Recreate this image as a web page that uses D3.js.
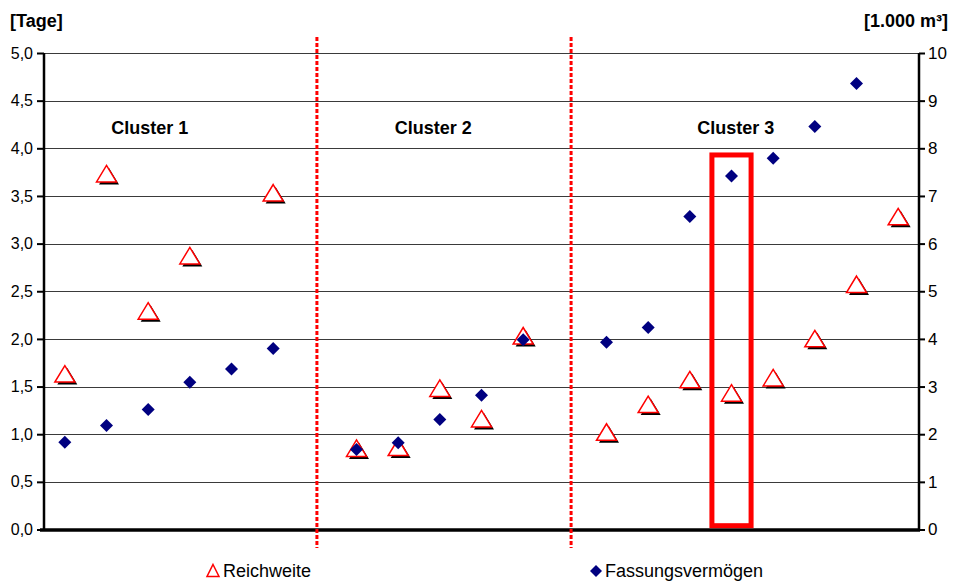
<!DOCTYPE html>
<html><head><meta charset="utf-8">
<script src="https://cdn.jsdelivr.net/npm/d3@7"></script>
<style>
html,body{margin:0;padding:0;background:#fff;}
svg{display:block;font-family:"Liberation Sans",Arial,sans-serif;}
</style></head>
<body>
<svg id="chart" width="953" height="581"></svg>
<script>
// ---- data ----
const categories = d3.range(21).map(i => "P" + (i + 1));
// Reichweite [Tage] (left axis); null = no point
const reichweite = [1.62, 3.72, 2.28, 2.86, null, 3.52, null,
                    0.84, 0.85, 1.47, 1.15, 2.02, null,
                    1.01, 1.30, 1.56, 1.42, 1.58, 1.99, 2.56, 3.27];
// Fassungsvermögen [1.000 m³] (right axis)
const fassung = [1.83, 2.18, 2.52, 3.09, 3.37, 3.80, null,
                 1.68, 1.82, 2.31, 2.82, 3.98, null,
                 3.93, 4.24, 6.57, 7.42, 7.79, 8.46, 9.36, null];
const leftTicks = [0, 0.5, 1, 1.5, 2, 2.5, 3, 3.5, 4, 4.5, 5];
const rightTicks = [0, 1, 2, 3, 4, 5, 6, 7, 8, 9, 10];
const clusterLabels = ["Cluster 1", "Cluster 2", "Cluster 3"];
const seriesNames = ["Reichweite", "Fassungsvermögen"];

// ---- layout ----
const W = 953, H = 581;
const L = 44, R = 919, T = 53, B = 529.5;
const svg = d3.select("#chart");

const x = d3.scaleBand().domain(d3.range(categories.length)).range([L, R]).padding(0);
const xc = i => L + x.bandwidth() * (i + 0.5);
const yL = d3.scaleLinear().domain([0, 5]).range([B, T]);
const yR = d3.scaleLinear().domain([0, 10]).range([B, T]);
const fmt = d => d.toFixed(1).replace(".", ",");

// gridlines
svg.append("g").selectAll("line").data(leftTicks.filter(d => d > 0)).join("line")
  .attr("x1", L).attr("x2", R)
  .attr("y1", d => Math.round(yL(d)) + 0.5).attr("y2", d => Math.round(yL(d)) + 0.5)
  .attr("stroke", "#3a3a3a").attr("stroke-width", 1);

// axes
const gl = svg.append("g").attr("transform", `translate(${L},0)`)
  .call(d3.axisLeft(yL).tickValues(leftTicks).tickFormat(fmt).tickSize(7).tickPadding(4));
const gr = svg.append("g").attr("transform", `translate(${R},0)`)
  .call(d3.axisRight(yR).tickValues(rightTicks).tickFormat(d3.format("d")).tickSize(6).tickPadding(3));
[gl, gr].forEach((g, k) => {
  g.select(".domain").remove();
  g.selectAll(".tick line").attr("stroke", "#000").attr("stroke-width", 2);
  g.selectAll(".tick text").attr("fill", "#000").style("font-size", k ? "17px" : "16px")
    .style("font-family", '"Liberation Sans",Arial,sans-serif');
});
svg.append("line").attr("x1", L).attr("x2", L).attr("y1", T).attr("y2", B + 1.5)
  .attr("stroke", "#000").attr("stroke-width", 2.5);
svg.append("line").attr("x1", R).attr("x2", R).attr("y1", T).attr("y2", B + 1.5)
  .attr("stroke", "#000").attr("stroke-width", 2.5);
svg.append("line").attr("x1", L - 4).attr("x2", R + 1).attr("y1", B + 0.5).attr("y2", B + 0.5)
  .attr("stroke", "#000").attr("stroke-width", 3.5);

// axis titles
svg.append("text").attr("x", 10).attr("y", 27).text("[Tage]")
  .style("font-weight", "bold").style("font-size", "18px");
svg.append("text").attr("x", 948).attr("y", 27).attr("text-anchor", "end").text("[1.000 m³]")
  .style("font-weight", "bold").style("font-size", "18px");

// cluster divider lines (dotted red)
const dividerAt = [6.05, 12.15];
svg.append("g").selectAll("line").data(dividerAt).join("line")
  .attr("x1", d => xc(d)).attr("x2", d => xc(d))
  .attr("y1", 37).attr("y2", 548)
  .attr("stroke", "#ff0000").attr("stroke-width", 3).attr("stroke-dasharray", "4,2");

// cluster labels
const clusterAt = [2.04, 8.84, 16.1];
svg.append("g").selectAll("text").data(clusterLabels).join("text")
  .attr("x", (d, i) => xc(clusterAt[i])).attr("y", yL(4.22)).attr("dy", "0.35em")
  .attr("text-anchor", "middle").text(d => d)
  .style("font-weight", "bold").style("font-size", "18px");

// highlight rectangle around category 17
const hiIdx = 16, hiHalf = 0.47, hiTop = 3.93, hiBot = 0.04;
svg.append("rect")
  .attr("x", xc(hiIdx - hiHalf)).attr("width", xc(hiIdx + hiHalf) - xc(hiIdx - hiHalf))
  .attr("y", yL(hiTop)).attr("height", yL(hiBot) - yL(hiTop))
  .attr("fill", "none").attr("stroke", "#ff0000").attr("stroke-width", 5);

// markers
const triPath = "M0,-9.5L10,7L-10,7Z";
const diaPath = "M0,-6.5L6.5,0L0,6.5L-6.5,0Z";
const rw = reichweite.map((v, i) => ({ v, i })).filter(d => d.v != null);
const fv = fassung.map((v, i) => ({ v, i })).filter(d => d.v != null);

const gt = svg.append("g");
gt.selectAll("path.sh").data(rw).join("path").attr("class", "sh")
  .attr("d", triPath).attr("fill", "#000")
  .attr("transform", d => `translate(${xc(d.i) + 2.5},${yL(d.v) + 2.5})`);
gt.selectAll("path.tr").data(rw).join("path").attr("class", "tr")
  .attr("d", triPath).attr("fill", "#fff").attr("stroke", "#ff0000").attr("stroke-width", 1.5)
  .attr("transform", d => `translate(${xc(d.i)},${yL(d.v)})`);

svg.append("g").selectAll("path").data(fv).join("path")
  .attr("d", diaPath).attr("fill", "#000080")
  .attr("transform", d => `translate(${xc(d.i)},${yR(d.v)})`);

// legend
const lg = svg.append("g");
lg.append("path").attr("d", "M0,-6.5L6,5.5L-6,5.5Z").attr("fill", "#fff")
  .attr("stroke", "#ff0000").attr("stroke-width", 1.5).attr("transform", "translate(213,571)");
lg.append("text").attr("x", 223).attr("y", 577).text(seriesNames[0]).style("font-size", "18px");
lg.append("path").attr("d", "M0,-6L6,0L0,6L-6,0Z").attr("fill", "#000080").attr("transform", "translate(596,571)");
lg.append("text").attr("x", 605).attr("y", 577).text(seriesNames[1]).style("font-size", "18px");
</script>
</body></html>
